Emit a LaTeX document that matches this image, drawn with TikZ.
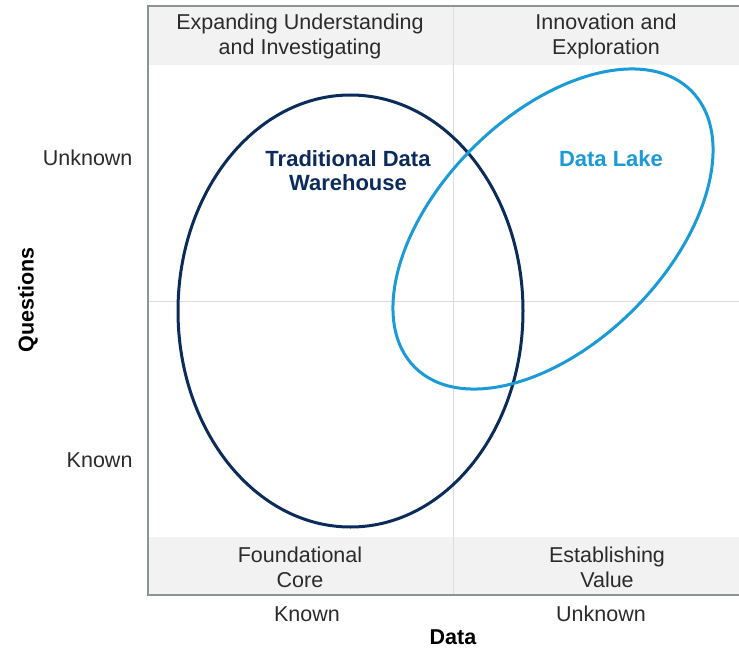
\documentclass[tikz,border=0pt]{standalone}
\usepackage{fontspec}
\setmainfont{Liberation Sans}
\usetikzlibrary{shapes.geometric}
\definecolor{dwhnavy}{HTML}{0B2B5B}
\definecolor{lakeblue}{HTML}{1A9AD7}
\definecolor{framegray}{HTML}{8C9494}
\definecolor{bandgray}{HTML}{F2F2F2}
\definecolor{divgray}{HTML}{DCDCDC}
\definecolor{txtgray}{HTML}{2B2B2B}

\begin{document}
\begin{tikzpicture}[x=1pt, y=-1pt,
        quad/.style={align=center, text=txtgray, font=\fontsize{21.5}{25}\selectfont},
        ticklbl/.style={text=txtgray, font=\fontsize{21.5}{25}\selectfont},
        axislbl/.style={text=black, inner sep=0pt, font=\fontsize{21.5}{25}\selectfont\bfseries},
        setlbl/.style={align=center, font=\fontsize{22}{24}\selectfont\bfseries},
        setring/.style={ellipse, draw, line width=3pt, inner sep=0pt}
    ]
    \useasboundingbox (0,0) rectangle (739,650);
    % 上下两条灰带
    \fill[bandgray] (148,6) rectangle (739,65);
    \fill[bandgray] (148,537) rectangle (739,595);
    \draw[divgray, line width=1pt] (453.5,6) -- (453.5,595);
    \draw[divgray, line width=1pt] (148,301) -- (739,301);
    \draw[framegray, line width=2pt] (739,6) -- (148,6) -- (148,595) -- (739,595);

    % 两个椭圆
    \node (dwh) [setring, draw=dwhnavy, minimum width=345pt, minimum height=432pt] at (350.5,311) {};
    \node (lake) [setring, draw=lakeblue, rotate=45, minimum width=391pt, minimum height=228pt] at (553,229) {};

    \node (dwhlbl) [setlbl, text=dwhnavy] at (348,171) {Traditional Data\\Warehouse};
    \node (lakelbl) [setlbl, text=lakeblue] at (611,159) {Data Lake};

    \node (expand) [quad] at (300,36) {Expanding Understanding\\and Investigating};
    \node (innov) [quad] at (606,36) {Innovation and\\Exploration};
    \node (found) [quad] at (300,567) {Foundational\\Core};
    \node (estab) [quad] at (607,567) {Establishing\\Value};

    \node (qunk) [ticklbl, anchor=east] at (136,158) {Unknown};
    \node (qknown) [ticklbl, anchor=east] at (136,460) {Known};
    \node (dknown) [ticklbl] at (307,614) {Known};
    \node (dunk) [ticklbl] at (601,614) {Unknown};

    \node (questions) [axislbl, rotate=90] at (28,300) {Questions}; % 纵轴
    \node (data) [axislbl] at (453,637) {Data};
\end{tikzpicture}
\end{document}
